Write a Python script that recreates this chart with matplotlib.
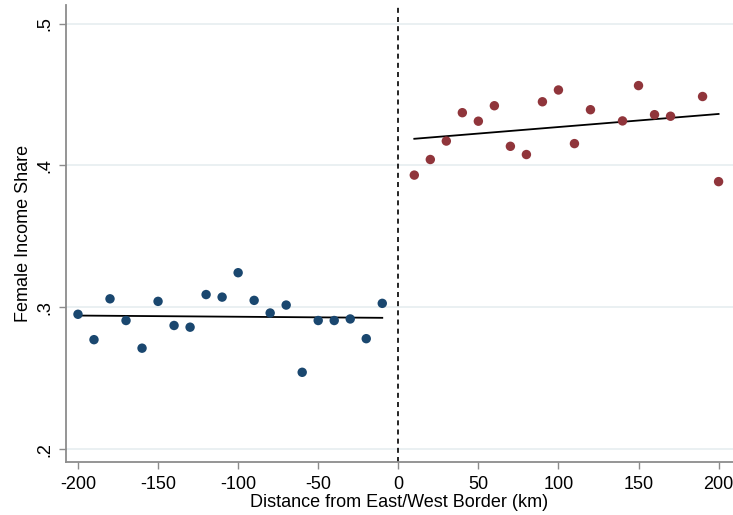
import matplotlib
matplotlib.use("Agg")
import matplotlib.pyplot as plt

plt.rcParams["font.family"] = ["Liberation Sans", "DejaVu Sans"]
plt.rcParams["axes.unicode_minus"] = False

# west (left of border) bins
west_x = [-200, -190, -180, -170, -160, -150, -140, -130, -120, -110,
          -100, -90, -80, -70, -60, -50, -40, -30, -20, -10]
west_y = [0.2951, 0.2772, 0.3060, 0.2907, 0.2712, 0.3042, 0.2872, 0.2860, 0.3090, 0.3072,
          0.3244, 0.3049, 0.2960, 0.3016, 0.2542, 0.2907, 0.2907, 0.2918, 0.2779, 0.3028]

# east (right of border) bins
east_x = [10, 20, 30, 40, 50, 60, 70, 80, 90, 100,
          110, 120, 140, 150, 160, 170, 190, 200]
east_y = [0.3932, 0.4042, 0.4172, 0.4372, 0.4312, 0.4421, 0.4135, 0.4077, 0.4449, 0.4532,
          0.4154, 0.4393, 0.4314, 0.4563, 0.4358, 0.4347, 0.4486, 0.3886]

# linear fits, endpoints
west_fit_x = [-200, -10]
west_fit_y = [0.2942, 0.2926]
east_fit_x = [10, 200]
east_fit_y = [0.4188, 0.4363]

x_ticks = [-200, -150, -100, -50, 0, 50, 100, 150, 200]
y_ticks = [0.2, 0.3, 0.4, 0.5]
y_ticklabels = [".2", ".3", ".4", ".5"]

NAVY   = "#1a476f"
MAROON = "#90353b"
GRID   = "#e6eef0"
SPINE  = "#8c8c8c"

fig = plt.figure(figsize=(7.33, 5.15), dpi=100)
ax = fig.add_axes([0.090, 0.103, 0.91, 0.887])

ax.set_xlim(-207.5, 209)
ax.set_ylim(0.191, 0.513)

for y in y_ticks:
    ax.axhline(y, color=GRID, linewidth=1.2, zorder=0)

ax.scatter(west_x, west_y, s=46, color=NAVY, edgecolors="none", zorder=3)
ax.scatter(east_x, east_y, s=46, color=MAROON, edgecolors="none", zorder=3)
ax.plot(west_fit_x, west_fit_y, color="black", linewidth=1.3, zorder=2)
ax.plot(east_fit_x, east_fit_y, color="black", linewidth=1.3, zorder=2)
ax.axvline(0, color="black", linestyle=(0, (3, 2.5)), linewidth=1.2, zorder=2)

ax.set_xticks(x_ticks)
ax.set_yticks(y_ticks)
ax.set_yticklabels(y_ticklabels, rotation=90, va="center")
ax.tick_params(axis="both", colors=SPINE, labelcolor="black", labelsize=13,
               length=5, width=1, direction="out")
ax.tick_params(axis="x", pad=5)
ax.tick_params(axis="y", pad=4)

for side in ["top", "right"]:
    ax.spines[side].set_visible(False)
for side in ["left", "bottom"]:
    ax.spines[side].set_color(SPINE)
    ax.spines[side].set_linewidth(1.3)

ax.set_xlabel("Distance from East/West Border (km)", fontsize=13, labelpad=1)
ax.set_ylabel("Female Income Share", fontsize=13, labelpad=3)

fig.savefig("out.png", dpi=100)
